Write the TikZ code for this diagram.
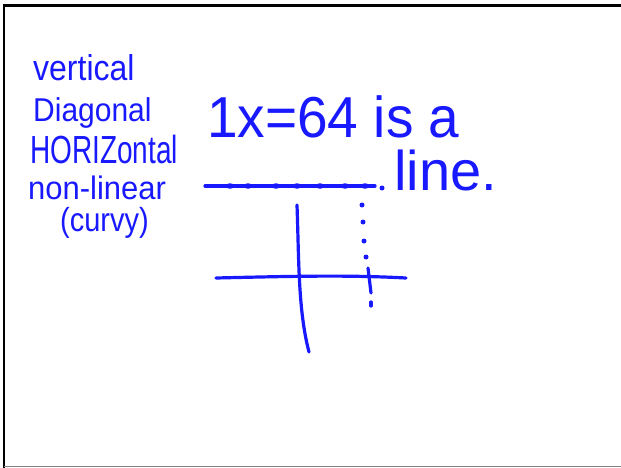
\documentclass[tikz,border=0pt]{standalone}
\usepackage{fontspec}
\setmainfont{Liberation Sans}
\definecolor{ink}{RGB}{25,25,255}
\tikzset{
  hand/.style={text=ink, inner sep=0pt, anchor=base west},
  pen/.style={draw=ink, line width=3.2pt, line cap=round, line join=round},
  dotmark/.style={fill=ink, circle, inner sep=0pt, minimum size=5pt},
  bigdot/.style={fill=ink, ellipse, inner sep=0pt, minimum width=9pt, minimum height=5.5pt}
}
\usetikzlibrary{shapes.geometric}
\begin{document}
\begin{tikzpicture}[x=1pt,y=-1pt]
\useasboundingbox (0,0) rectangle (621,468);
\fill[white] (0,0) rectangle (621,468);
% frame
\draw[line width=2.5pt] (4,468) -- (4,5.5) -- (621,5.5);
\draw[line width=1.5pt, gray] (4,466.5) -- (621,466.5);
% left list
\node[hand, font=\fontsize{32}{32}\selectfont, yscale=1.12] (v) at (33,81) {vertical};
\node[hand, font=\fontsize{30}{30}\selectfont, yscale=1.1] (d) at (33,121) {Diagonal};
\node[hand, font=\fontsize{28}{28}\selectfont, yscale=1.4] (h) at (30,164) {HORIZontal};
\node[hand, font=\fontsize{31}{31}\selectfont, yscale=1.05] (n) at (28,199) {non-linear};
\node[hand, font=\fontsize{29}{29}\selectfont, yscale=1.15] (c) at (60,231) {(curvy)};
% main sentence
\node[hand, font=\fontsize{55}{55}\selectfont, yscale=1.05] (s) at (207,138) {1x=64 is a};
\node[hand, font=\fontsize{56}{56}\selectfont] (l) at (394,190) {line.};
% blank underline with dots
\coordinate (u1) at (205,186);
\coordinate (u2) at (375,186);
\draw[pen] (u1) -- (u2);
\foreach \xx in {230,248,276,297,320,345,365}
  \node[bigdot] at (\xx,186) {};
\node[dotmark] (p1) at (382,188) {};
% axes
\coordinate (hx1) at (216,278);
\coordinate (hx2) at (406,278);
\draw[pen] (hx1) .. controls (300,276) and (350,275) .. (hx2);
\coordinate (vy1) at (297,205);
\coordinate (vy2) at (309,352);
\draw[pen] (vy1) .. controls (299,260) and (298,310) .. (vy2);
% dotted vertical
\foreach \xx/\yy in {362/205,363/222,364/241,366/257}
  \node[dotmark] at (\xx,\yy) {};
\coordinate (t1) at (368,268);
\coordinate (t2) at (371,293);
\draw[pen] (t1) -- (t2);
\draw[pen] (371,302) -- (371,306);
\end{tikzpicture}
\end{document}
